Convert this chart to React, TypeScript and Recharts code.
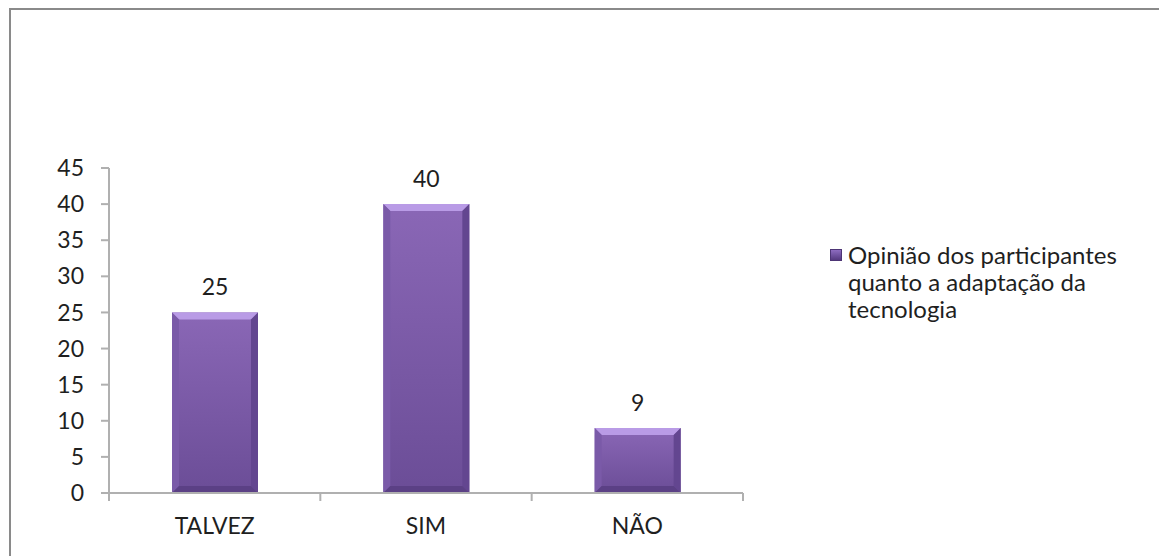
import React from 'react';
import { BarChart, Bar, XAxis, YAxis, Legend, LabelList } from 'recharts';

const categories = ['TALVEZ', 'SIM', 'NÃO'];
const opinionValues = [25, 40, 9];
const yTicks = [0, 5, 10, 15, 20, 25, 30, 35, 40, 45];
const seriesName = 'Opinião dos participantes quanto a adaptação da tecnologia';

const data = categories.map((c, i) => ({ category: c, value: opinionValues[i] }));

const FONT = 'Lato, "Open Sans", sans-serif';
const AXIS = '#b0b0b0';
const TEXT = '#1f1f1f';
const FS = 23;

// beveled purple bar, like the office "3D" bar look
const BevelBar = (props: any) => {
  const { x, y, width, height } = props;
  if (!height || height <= 0) return null;
  const b = Math.min(7, height / 3, width / 3);
  const r = x + width;
  const bt = y + height;
  return (
    <g>
      <rect x={x} y={y} width={width} height={height} fill="url(#barFace)" />
      <polygon points={`${x},${y} ${r},${y} ${r - b},${y + b} ${x + b},${y + b}`} fill="#b99be6" />
      <polygon points={`${x},${y} ${x + b},${y + b} ${x + b},${bt - b} ${x},${bt}`} fill="#7a5aa8" />
      <polygon points={`${r},${y} ${r},${bt} ${r - b},${bt - b} ${r - b},${y + b}`} fill="#634690" />
      <polygon points={`${x},${bt} ${x + b},${bt - b} ${r - b},${bt - b} ${r},${bt}`} fill="#5b4085" />
    </g>
  );
};

const CategoryTick = (props: any) => {
  const { x, y, payload, index, visibleTicksCount } = props;
  const half = payload && payload.offset ? payload.offset : 105.7;
  const last = index === visibleTicksCount - 1;
  return (
    <g>
      <line x1={x - half} y1={y - 8} x2={x - half} y2={y} stroke={AXIS} strokeWidth={2} />
      {last && <line x1={x + half} y1={y - 8} x2={x + half} y2={y} stroke={AXIS} strokeWidth={2} />}
      <text x={x} y={y + 17} dy="0.71em" textAnchor="middle" fill={TEXT} fontSize={FS} fontFamily={FONT}>
        {payload.value}
      </text>
    </g>
  );
};

const LegendBox = (props: any) => {
  const { payload } = props;
  return (
    <div style={{ fontFamily: FONT, fontSize: 24, color: TEXT, lineHeight: '27px' }}>
      {(payload || []).map((p: any) => (
        <div key={p.value} style={{ position: 'relative', paddingLeft: 18 }}>
          <span
            style={{
              position: 'absolute',
              left: 0,
              top: 8,
              width: 12,
              height: 12,
              background: 'linear-gradient(#8d6cc0, #553a80)',
              border: '1px solid #4d3575',
              boxSizing: 'border-box',
            }}
          />
          {p.value}
        </div>
      ))}
    </div>
  );
};

export default function App() {
  return (
    <div style={{ position: 'absolute', left: 0, top: 0, width: 1159, height: 556, background: '#fff' }}>
      <div
        style={{
          position: 'absolute',
          left: 9,
          top: 8,
          width: 1159,
          height: 556,
          borderTop: '2px solid #8a8a8a',
          borderLeft: '2px solid #8a8a8a',
        }}
      />
      <BarChart
        width={1159}
        height={556}
        data={data}
        margin={{ top: 168, right: 416, bottom: 23, left: 0 }}
        style={{ position: 'absolute', left: 0, top: 0 }}
      >
        <defs>
          <linearGradient id="barFace" x1="0" y1="0" x2="0" y2="1">
            <stop offset="0%" stopColor="#8a67b6" />
            <stop offset="100%" stopColor="#6b4d97" />
          </linearGradient>
        </defs>
        <XAxis
          dataKey="category"
          height={40}
          stroke={AXIS}
          strokeWidth={2}
          tickLine={false}
          interval={0}
          tick={<CategoryTick />}
        />
        <YAxis
          width={109}
          domain={[0, 45]}
          ticks={yTicks}
          interval={0}
          stroke={AXIS}
          strokeWidth={2}
          tickSize={8}
          tickMargin={17}
          tick={{ fill: TEXT, fontSize: FS, fontFamily: FONT }}
        />
        <Legend
          layout="horizontal"
          align="center"
          verticalAlign="middle"
          content={<LegendBox />}
          wrapperStyle={{ left: 830, top: 241, width: 320 }}
        />
        <Bar dataKey="value" name={seriesName} barSize={86} fill="#7b5aa8" shape={<BevelBar />} isAnimationActive={false}>
          <LabelList dataKey="value" position="top" offset={17} fill={TEXT} fontSize={FS} fontFamily={FONT} />
        </Bar>
      </BarChart>
    </div>
  );
}
